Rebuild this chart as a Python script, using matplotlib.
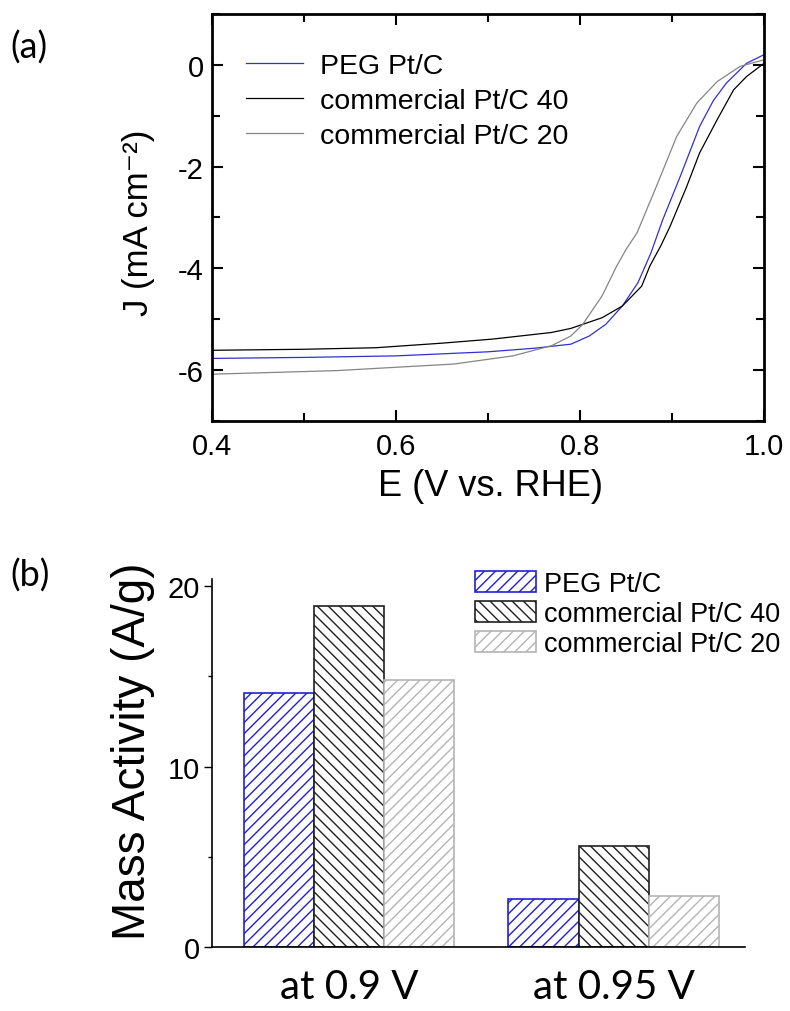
import matplotlib
matplotlib.use("Agg")
import matplotlib.pyplot as plt
from matplotlib.ticker import MultipleLocator

plt.rcParams['font.family'] = ['Liberation Sans', 'DejaVu Sans']
plt.rcParams['axes.unicode_minus'] = False
plt.rcParams['hatch.linewidth'] = 1.0

# ---- panel (a): ORR polarisation curves ----
E_peg = [0.40, 0.50, 0.60, 0.70, 0.75, 0.79, 0.81, 0.828, 0.846, 0.863, 0.877,
         0.890, 0.909, 0.930, 0.945, 0.959, 0.981, 1.0]
J_peg = [-5.77, -5.75, -5.72, -5.64, -5.57, -5.49, -5.33, -5.10, -4.74, -4.28, -3.70,
         -3.04, -2.19, -1.21, -0.70, -0.36, 0.03, 0.20]

E_c40 = [0.40, 0.50, 0.578, 0.65, 0.705, 0.769, 0.790, 0.824, 0.846, 0.867, 0.876,
         0.888, 0.898, 0.916, 0.930, 0.949, 0.967, 0.981, 1.0]
J_c40 = [-5.61, -5.59, -5.56, -5.47, -5.39, -5.26, -5.18, -4.97, -4.74, -4.35, -3.95,
         -3.55, -3.17, -2.39, -1.73, -1.08, -0.49, -0.23, 0.03]

E_c20 = [0.40, 0.535, 0.663, 0.727, 0.769, 0.790, 0.803, 0.824, 0.840, 0.850, 0.862,
         0.883, 0.905, 0.927, 0.949, 0.974, 1.0]
J_c20 = [-6.08, -6.01, -5.88, -5.72, -5.52, -5.33, -5.10, -4.54, -3.95, -3.63, -3.30,
         -2.39, -1.41, -0.75, -0.33, -0.03, 0.10]

# ---- panel (b): mass activity ----
groups = ['at 0.9 V', 'at 0.95 V']
ma_peg = [14.1, 2.67]
ma_c40 = [18.9, 5.59]
ma_c20 = [14.8, 2.82]

labels = ['PEG Pt/C', 'commercial Pt/C 40', 'commercial Pt/C 20']
colors = ['#3030d0', '#000000', '#858585']
bar_edges = ['#2020d0', '#202020', '#b4b4b4']
hatches = ['///', '\\\\\\', '///']

arial = ['Liberation Sans', 'DejaVu Sans']
calibri = ['Lato', 'DejaVu Sans']

fig = plt.figure(figsize=(7.9, 10.12), dpi=100)

# panel (a)
ax1 = fig.add_axes([0.2684, 0.583, 0.6987, 0.4022])
ax1.plot(E_peg, J_peg, color=colors[0], lw=0.9, label=labels[0])
ax1.plot(E_c40, J_c40, color=colors[1], lw=0.9, label=labels[1])
ax1.plot(E_c20, J_c20, color=colors[2], lw=0.9, label=labels[2])
ax1.set_xlim(0.4, 1.0)
ax1.set_ylim(-7, 1)
ax1.xaxis.set_major_locator(MultipleLocator(0.2))
ax1.xaxis.set_minor_locator(MultipleLocator(0.1))
ax1.yaxis.set_major_locator(MultipleLocator(2))
ax1.yaxis.set_minor_locator(MultipleLocator(1))
ax1.tick_params(which='both', direction='in', top=True, right=True, width=1.5,
                labelsize=21)
ax1.tick_params(axis='x', pad=8)
ax1.tick_params(axis='y', pad=6)
ax1.tick_params(which='major', length=8)
ax1.tick_params(which='minor', length=6)
for s in ax1.spines.values():
    s.set_linewidth(2)
ax1.set_xlabel('E (V vs. RHE)', fontsize=26, family=arial)
ax1.xaxis.set_label_coords(0.505, -0.115)
ax1.set_ylabel('J (mA cm\u207b\u00b2)', fontsize=25, family=arial)
ax1.yaxis.set_label_coords(-0.103, 0.49)
ax1.legend(loc='upper left', bbox_to_anchor=(246 / 790, 1 - 54 / 1012),
           bbox_transform=fig.transFigure, frameon=False, fontsize=20.5,
           handlelength=2.0, handletextpad=0.6, labelspacing=0.32,
           borderpad=0, borderaxespad=0)

# panel (b)
ax2 = fig.add_axes([0.2684, 0.0632, 0.6747, 0.3636])
w = 0.265
x = list(range(len(groups)))
for k, vals in enumerate([ma_peg, ma_c40, ma_c20]):
    ax2.bar([xi + (k - 1) * w for xi in x], vals, width=w, facecolor='white',
            edgecolor=bar_edges[k], hatch=hatches[k], linewidth=1.2,
            label=labels[k])
ax2.set_xlim(-0.518, 1.497)
ax2.set_ylim(0, 20.4)
ax2.set_xticks(x)
ax2.set_xticklabels(groups, fontsize=29, family=calibri)
ax2.tick_params(axis='x', length=0, pad=15)
ax2.yaxis.set_major_locator(MultipleLocator(10))
ax2.yaxis.set_minor_locator(MultipleLocator(5))
ax2.tick_params(axis='y', which='both', direction='out', labelsize=21, width=1, pad=3)
ax2.tick_params(axis='y', which='major', length=6)
ax2.tick_params(axis='y', which='minor', length=3)
ax2.spines['top'].set_visible(False)
ax2.spines['right'].set_visible(False)
ax2.spines['left'].set_linewidth(1.2)
ax2.spines['bottom'].set_linewidth(1.2)
ax2.set_ylabel('Mass Activity (A/g)', fontsize=33, family=arial)
ax2.yaxis.set_label_coords(-0.107, 0.534)
ax2.legend(loc='upper left', bbox_to_anchor=(475 / 790, 1 - 572 / 1012),
           bbox_transform=fig.transFigure, frameon=False, fontsize=19.5,
           handlelength=2.25, handleheight=0.8, handletextpad=0.3,
           labelspacing=0.15, borderpad=0, borderaxespad=0)

fig.text(0.013, 1 - 48 / 1012, '(a)', fontsize=26, family=calibri,
         va='center', ha='left')
fig.text(0.013, 1 - 576 / 1012, '(b)', fontsize=26, family=calibri,
         va='center', ha='left')

fig.savefig('out.png', dpi=100)
